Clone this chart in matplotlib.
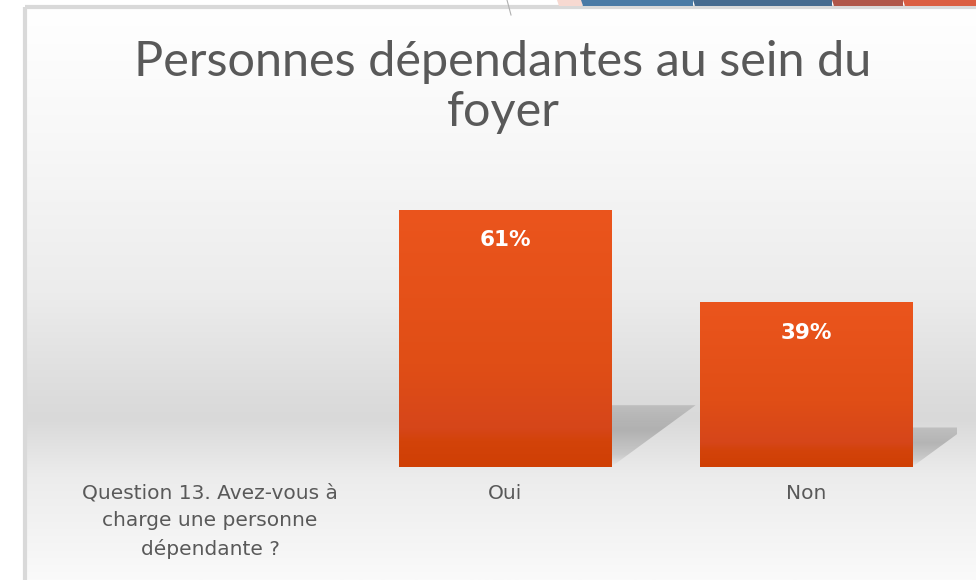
import numpy as np
import matplotlib
matplotlib.use("Agg")
import matplotlib.pyplot as plt
from matplotlib.colors import LinearSegmentedColormap
from matplotlib.patches import Polygon
from matplotlib.transforms import ScaledTranslation

# --- Daten ---
categories = ["Question 13. Avez-vous à\ncharge une personne\ndépendante ?", "Oui", "Non"]
values = [None, 61, 39]
value_labels = ["", "61%", "39%"]
title = "Personnes dépendantes au sein du\nfoyer"

TEXT_GREY = "#595959"
W, H = 976, 580

fig = plt.figure(figsize=(W / 100, H / 100), dpi=100)
fig.patch.set_facecolor("white")

# --- Hintergrund (Pixelkoordinaten) ---
bg = fig.add_axes([0, 0, 1, 1])
bg.set_xlim(0, W)
bg.set_ylim(H, 0)
bg.axis("off")

grad_stops = [(0.0, "#ffffff"), (0.25, "#f7f7f7"), (0.5, "#ececec"),
              (0.68, "#dcdcdc"), (0.72, "#d9d9d9"), (0.82, "#ececec"),
              (0.9, "#f2f2f2"), (1.0, "#fafafa")]
bg_cmap = LinearSegmentedColormap.from_list("bg", grad_stops)
bg.imshow(np.linspace(0, 1, 256).reshape(-1, 1), cmap=bg_cmap, aspect="auto",
          extent=(25, W, H, 7), zorder=0)
bg.plot([25, 25], [7, H], color="#d9d9d9", lw=3, zorder=1, solid_capstyle="butt")
bg.plot([25, W], [7, 7], color="#d9d9d9", lw=3, zorder=1, solid_capstyle="butt")

# Dekoration oben rechts
deco = [("#f7d9d1", 557, 582), ("#4a7ba6", 581, 693), ("#466b8f", 693, 832),
        ("#b0574a", 832, 903), ("#db5e41", 903, W)]
for col, x0, x1 in deco:
    bg.add_patch(Polygon([(x0, 0), (x1, 0), (x1, 5.5), (x0 + 2, 5.5)],
                         closed=True, color=col, lw=0, zorder=2))
bg.plot([507, 511], [0, 15], color="#b0b0b0", lw=0.8, zorder=2)

# Titel
bg.text(503, 87, title, ha="center", va="center", fontsize=35,
        family="Lato", color=TEXT_GREY, linespacing=1.18, zorder=5)

# --- Diagramm ---
base_px, top_scale = 467, 4.22
ymax = 70
ax = fig.add_axes([53.5 / W, (H - base_px) / H, 903 / W, ymax * top_scale / H])
ax.set_xlim(-0.5, 2.5)
ax.set_ylim(0, ymax)
ax.patch.set_alpha(0)
for s in ax.spines.values():
    s.set_visible(False)
ax.set_yticks([])

x = np.arange(len(categories))
bar_w = 0.705
bar_cmap = LinearSegmentedColormap.from_list(
    "bar", [(0.0, "#cf3f04"), (0.1, "#d3430a"), (0.15, "#d6461a"), (0.4, "#e04e16"), (1.0, "#eb551d")])
shadow_rgba = np.zeros((100, 1, 4))
shadow_rgba[..., :3] = 0.3
shadow_rgba[:, 0, 3] = np.interp(np.linspace(0, 1, 100), [0, 0.2, 0.6, 1], [0.0, 0.18, 0.3, 0.2])

for xi, v in zip(x, values):
    if v is None:
        continue
    # Schatten
    h_s = 0.24 * v
    dx = 0.0046 * v
    x0, x1 = xi - bar_w / 2, xi + bar_w / 2
    sh = Polygon([(x0, 0), (x1, 0), (x1 + dx, h_s), (x0 + dx, h_s)], closed=True,
                 facecolor="none", edgecolor="none")
    ax.add_patch(sh)
    im = ax.imshow(shadow_rgba, aspect="auto", extent=(x0, x1 + dx, h_s, 0),
                   origin="upper", zorder=2)
    im.set_clip_path(sh)

for xi, v, lab in zip(x, values, value_labels):
    if v is None:
        continue
    bar = ax.bar(xi, v, width=bar_w, color="#e04e16", zorder=3)[0]
    gim = ax.imshow(np.linspace(0, 1, 256).reshape(-1, 1), cmap=bar_cmap, aspect="auto",
                    origin="lower", extent=(xi - bar_w / 2, xi + bar_w / 2, 0, v), zorder=4)
    gim.set_clip_path(bar)
    ax.annotate(lab, (xi, v), xytext=(0, -22), textcoords="offset points",
                ha="center", va="center", color="white", fontsize=15.5,
                fontweight="bold", zorder=6)

ax.set_xticks(x)
ax.set_xticklabels(categories, fontsize=14.5, color=TEXT_GREY, linespacing=1.55,
                   va="top")
ax.tick_params(axis="x", length=0, pad=12)
# Fragetext leicht nach rechts verschoben wie im Original
q_lab = ax.get_xticklabels()[0]
q_lab.set_transform(q_lab.get_transform() + ScaledTranslation(0.06, 0, fig.dpi_scale_trans))
ax.set_xlim(-0.5, 2.5)
ax.set_ylim(0, ymax)

fig.savefig("out.png", dpi=100)
